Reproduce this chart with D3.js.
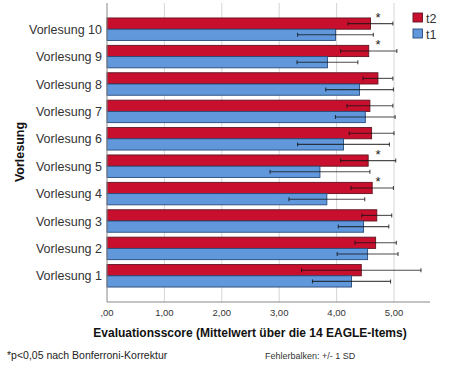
<!DOCTYPE html>
<html>
<head>
<meta charset="utf-8">
<script src="https://cdn.jsdelivr.net/npm/d3@7"></script>
<style>
  body { margin: 0; background: #fff; }
  svg { font-family: Arial, "Liberation Sans", sans-serif; }
</style>
</head>
<body>
<script>
// values
const lectures = ["Vorlesung 10", "Vorlesung 9", "Vorlesung 8", "Vorlesung 7", "Vorlesung 6",
  "Vorlesung 5", "Vorlesung 4", "Vorlesung 3", "Vorlesung 2", "Vorlesung 1"];
const meanT2 = [4.59, 4.56, 4.72, 4.58, 4.61, 4.55, 4.62, 4.70, 4.68, 4.43];
const sdT2 = [0.39, 0.49, 0.26, 0.40, 0.39, 0.48, 0.37, 0.26, 0.36, 1.04];
const meanT1 = [3.98, 3.84, 4.40, 4.50, 4.12, 3.71, 3.83, 4.47, 4.54, 4.26];
const sdT1 = [0.66, 0.53, 0.59, 0.52, 0.80, 0.87, 0.66, 0.44, 0.53, 0.68];
const significant = ["Vorlesung 10", "Vorlesung 9", "Vorlesung 5", "Vorlesung 4"];
const xTicks = [0, 1, 2, 3, 4, 5];

const series = [
  { key: "t2", mean: meanT2, sd: sdT2, fill: "#c8102e", stroke: "#5e1420" },
  { key: "t1", mean: meanT1, sd: sdT1, fill: "#6198dc", stroke: "#274a7a" }
];

const width = 449, height = 369;
const x0 = 107, x1 = 430, yTop = 3, yAxis = 302;

const x = d3.scaleLinear().domain([0, (x1 - x0) / 57.4]).range([x0, x1]);
const y = d3.scaleBand().domain(lectures).range([15.5, 289.5])
  .paddingInner(0.18).paddingOuter(0.09);
const ySub = d3.scaleBand().domain(series.map(s => s.key)).range([0, y.bandwidth()]);

const svg = d3.select("body").append("svg")
  .attr("width", width).attr("height", height);

// grid
svg.append("g").selectAll("line")
  .data(xTicks.filter(t => t > 0))
  .join("line")
  .attr("x1", d => x(d)).attr("x2", d => x(d))
  .attr("y1", yTop).attr("y2", yAxis)
  .attr("stroke", "#d6d6d6").attr("stroke-width", 1);

// bars
series.forEach(s => {
  const g = svg.append("g");
  g.selectAll("rect")
    .data(lectures)
    .join("rect")
    .attr("x", x(0))
    .attr("y", d => y(d) + ySub(s.key))
    .attr("width", (d, i) => x(s.mean[i]) - x(0))
    .attr("height", ySub.bandwidth())
    .attr("fill", s.fill)
    .attr("stroke", s.stroke)
    .attr("stroke-width", 0.9);
});

// error bars
series.forEach(s => {
  const g = svg.append("g").attr("stroke", "#111").attr("stroke-opacity", 0.75).attr("stroke-width", 1.1);
  lectures.forEach((d, i) => {
    const cy = y(d) + ySub(s.key) + ySub.bandwidth() / 2;
    const lo = x(s.mean[i] - s.sd[i]), hi = x(s.mean[i] + s.sd[i]);
    g.append("line").attr("x1", lo).attr("x2", hi).attr("y1", cy).attr("y2", cy);
    [lo, hi].forEach(px => g.append("line")
      .attr("x1", px).attr("x2", px).attr("y1", cy - 2).attr("y2", cy + 2));
  });
});

// significance marks
svg.append("g").selectAll("text")
  .data(significant)
  .join("text")
  .attr("x", x(4.72))
  .attr("y", d => y(d) + 4)
  .attr("text-anchor", "middle")
  .attr("font-size", 13)
  .attr("fill", "#222")
  .text("*");

// axes
svg.append("line").attr("x1", x0).attr("x2", x0).attr("y1", yTop).attr("y2", yAxis)
  .attr("stroke", "#888");
svg.append("line").attr("x1", x0).attr("x2", x1).attr("y1", yAxis).attr("y2", yAxis)
  .attr("stroke", "#888");

svg.append("g").selectAll("text")
  .data(xTicks)
  .join("text")
  .attr("x", d => x(d))
  .attr("y", 316)
  .attr("text-anchor", "middle")
  .attr("font-size", 9.5)
  .attr("fill", "#333")
  .text(d => d3.format(".2f")(d).replace(/^0/, "").replace(".", ","));

svg.append("g").selectAll("text")
  .data(lectures)
  .join("text")
  .attr("x", 102)
  .attr("y", d => y(d) + y.bandwidth() / 2 + 4.5)
  .attr("text-anchor", "end")
  .attr("font-size", 12.5)
  .attr("fill", "#333")
  .text(d => d);

// titles
svg.append("text")
  .attr("x", 250).attr("y", 337)
  .attr("text-anchor", "middle")
  .attr("font-size", 12).attr("font-weight", "bold").attr("fill", "#111")
  .text("Evaluationsscore (Mittelwert über die 14 EAGLE-Items)");

svg.append("text")
  .attr("transform", "translate(24,152) rotate(-90)")
  .attr("text-anchor", "middle")
  .attr("font-size", 12.5).attr("font-weight", "bold").attr("fill", "#111")
  .text("Vorlesung");

svg.append("text")
  .attr("x", 7).attr("y", 359)
  .attr("font-size", 10.5).attr("fill", "#222")
  .text("*p<0,05 nach Bonferroni-Korrektur");

svg.append("text")
  .attr("x", 265).attr("y", 359)
  .attr("font-size", 9).attr("fill", "#333")
  .text("Fehlerbalken: +/- 1 SD");

// legend
const legend = svg.append("g").attr("transform", "translate(413,13)");
series.forEach((s, i) => {
  const row = legend.append("g").attr("transform", `translate(0,${i * 16})`);
  row.append("rect").attr("width", 9.5).attr("height", 9)
    .attr("fill", s.fill).attr("stroke", s.stroke).attr("stroke-width", 0.9);
  row.append("text").attr("x", 13).attr("y", 9.5)
    .attr("font-size", 12.5).attr("fill", "#333").text(s.key);
});
</script>
</body>
</html>
